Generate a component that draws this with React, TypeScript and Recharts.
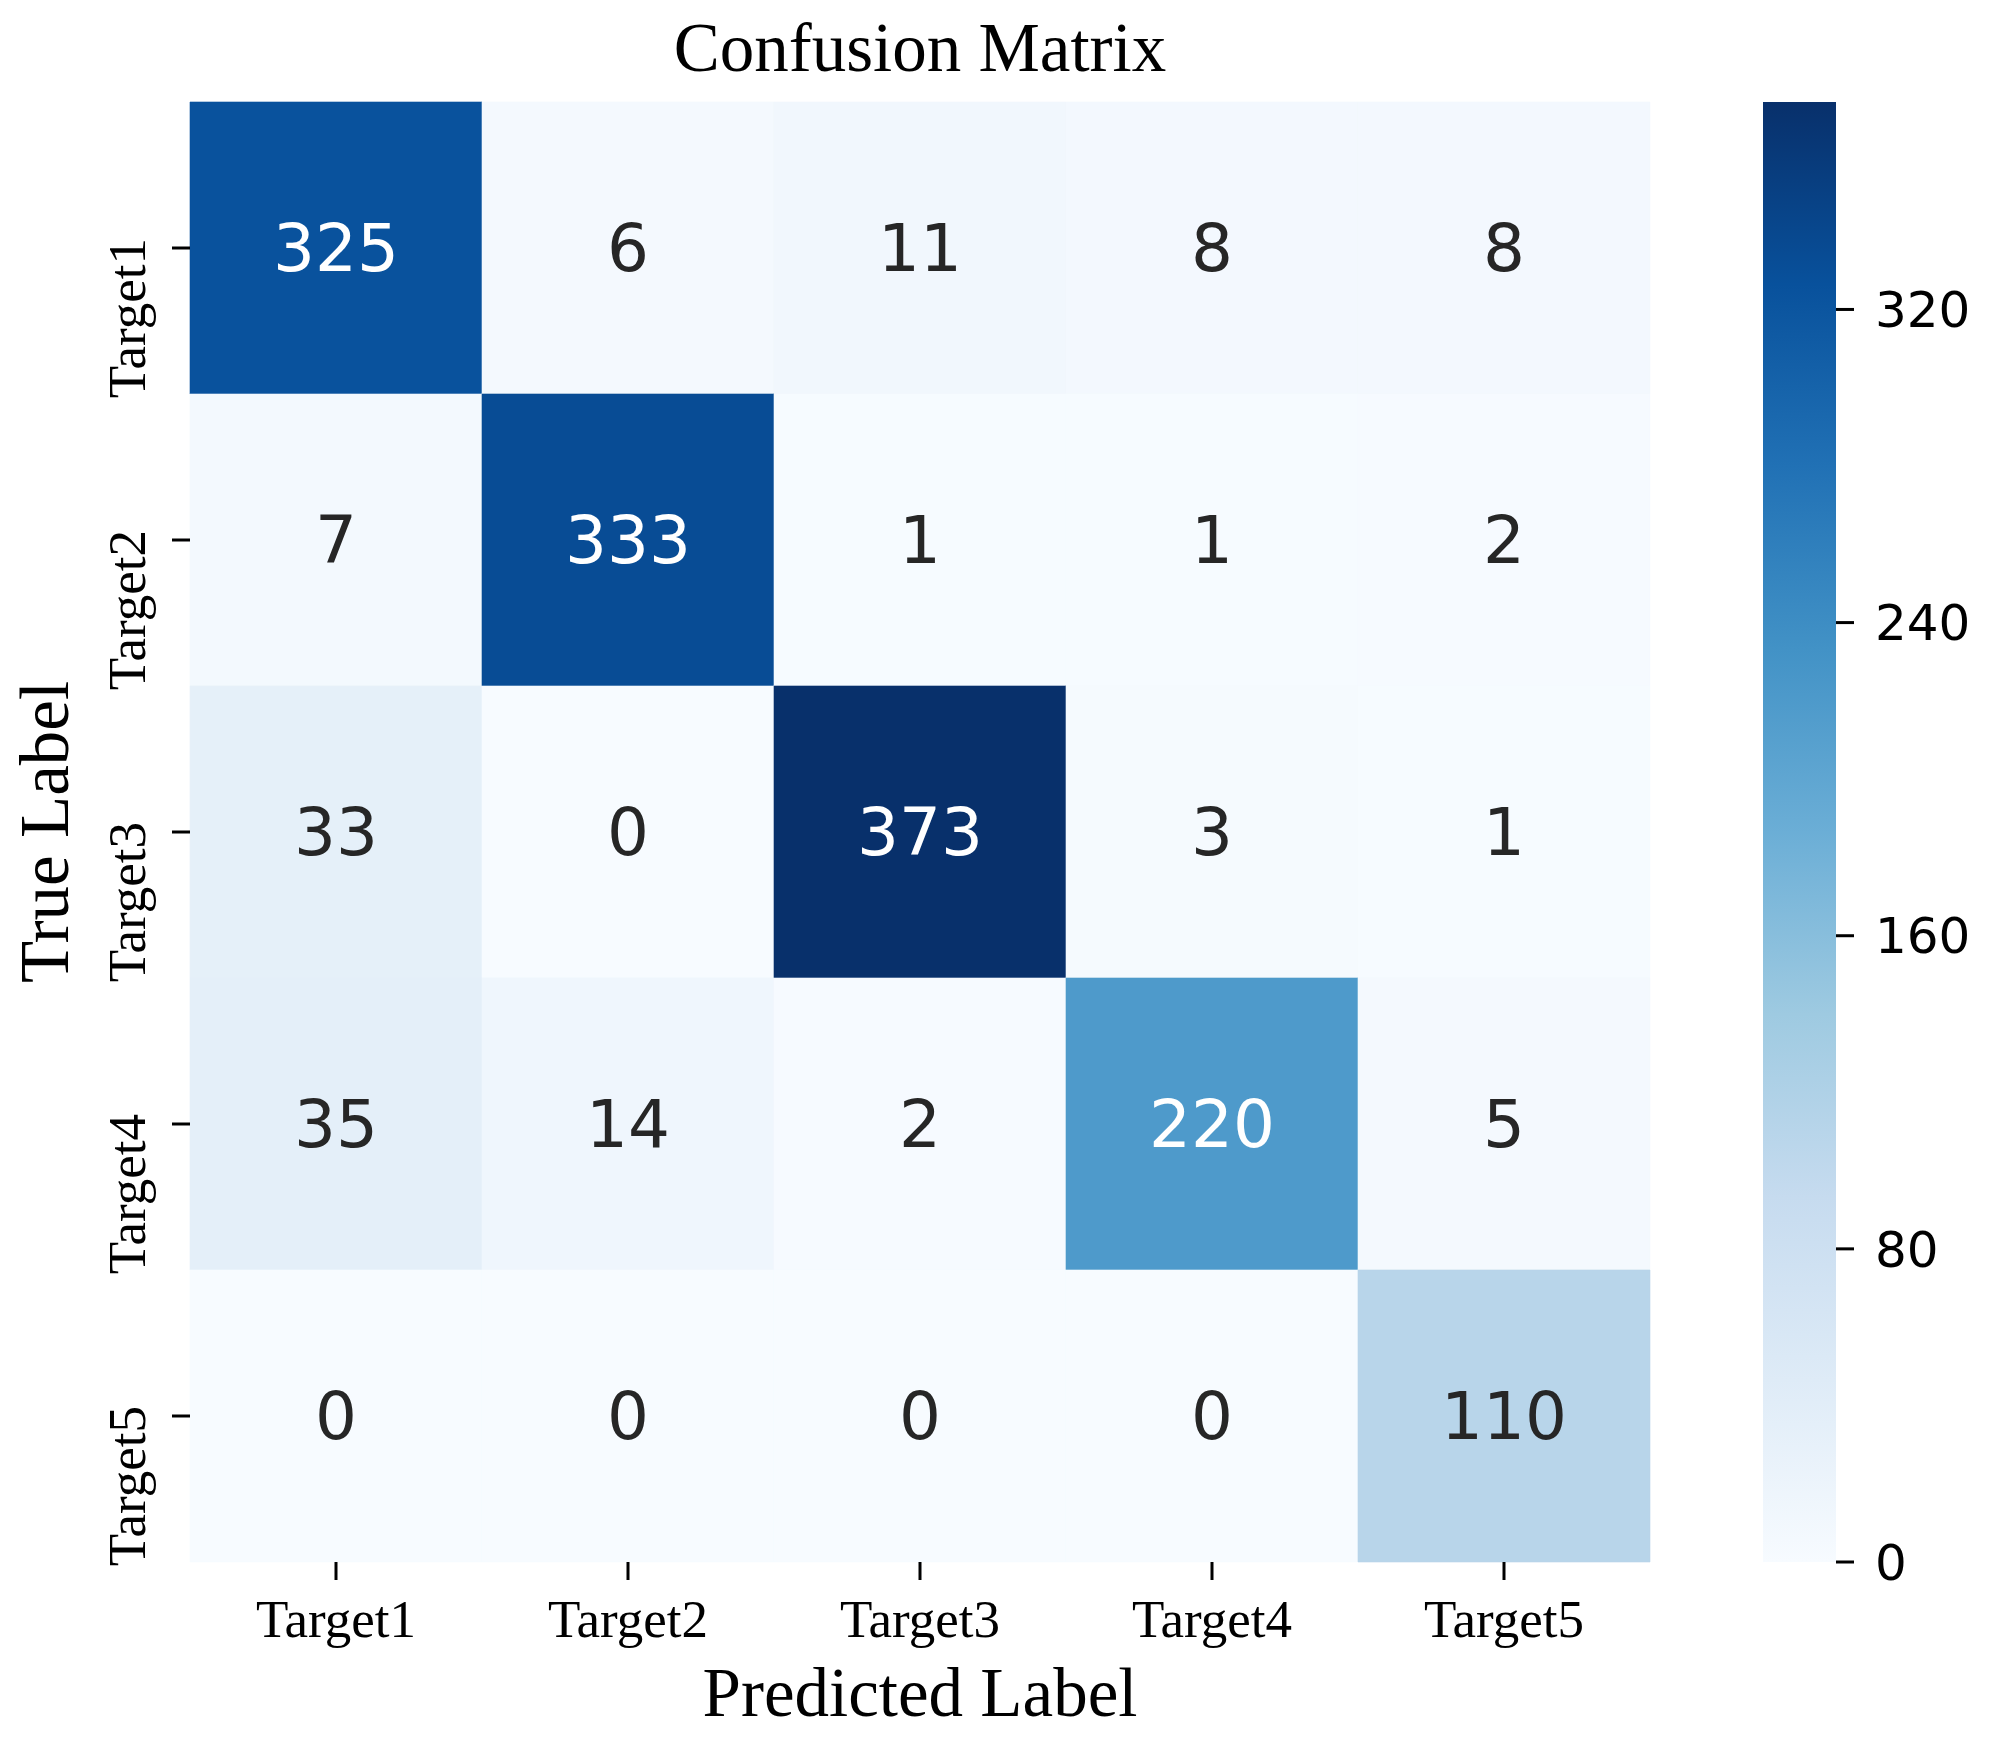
import React from 'react'
import {
  ScatterChart,
  Scatter,
  XAxis,
  YAxis,
  ReferenceArea,
  BarChart,
  Bar,
} from 'recharts'

// confusion matrix: rows = true label, cols = predicted label
const CLASSES = ['Target1', 'Target2', 'Target3', 'Target4', 'Target5']
const ROW_T1 = [325, 6, 11, 8, 8]
const ROW_T2 = [7, 333, 1, 1, 2]
const ROW_T3 = [33, 0, 373, 3, 1]
const ROW_T4 = [35, 14, 2, 220, 5]
const ROW_T5 = [0, 0, 0, 0, 110]
const MATRIX = [ROW_T1, ROW_T2, ROW_T3, ROW_T4, ROW_T5]
const CBAR_TICKS = [0, 80, 160, 240, 320]

// matplotlib "Blues"
const BLUES = [
  '#f7fbff',
  '#deebf7',
  '#c6dbef',
  '#9ecae1',
  '#6baed6',
  '#4292c6',
  '#2171b5',
  '#08519c',
  '#08306b',
]

const VMAX = Math.max(...MATRIX.flat())
const SERIF = "'Liberation Serif', 'Times New Roman', serif"
const SANS = "'DejaVu Sans', sans-serif"
const INK = '#000000'

const hexToRgb = (h: string) => [
  parseInt(h.slice(1, 3), 16),
  parseInt(h.slice(3, 5), 16),
  parseInt(h.slice(5, 7), 16),
]

const blues = (t: number) => {
  const tt = Math.max(0, Math.min(1, t))
  const p = tt * (BLUES.length - 1)
  const i = Math.min(Math.floor(p), BLUES.length - 2)
  const f = p - i
  const a = hexToRgb(BLUES[i])
  const b = hexToRgb(BLUES[i + 1])
  return a.map((v, k) => Math.round(v + (b[k] - v) * f))
}

const toHex = (rgb: number[]) =>
  '#' + rgb.map((v) => v.toString(16).padStart(2, '0')).join('')

// seaborn picks white text on dark cells
const annotColor = (rgb: number[]) => {
  const lin = rgb.map((v) => {
    const c = v / 255
    return c <= 0.03928 ? c / 12.92 : Math.pow((c + 0.055) / 1.055, 2.4)
  })
  const lum = 0.2126 * lin[0] + 0.7152 * lin[1] + 0.0722 * lin[2]
  return lum > 0.408 ? '#262626' : '#ffffff'
}

const cells = MATRIX.flatMap((row, r) =>
  row.map((v, c) => {
    const rgb = blues(v / VMAX)
    return {
      r,
      c,
      v,
      x: c + 0.5,
      y: r + 0.5,
      fill: toHex(rgb),
      text: annotColor(rgb),
    }
  })
)

const centers = CLASSES.map((_, i) => i + 0.5)
const cbarData = [{ name: 'cbar', value: VMAX }]

const XTick = (props: any) => {
  const { x, y, payload } = props
  return (
    <text
      x={x}
      y={y + 57}
      textAnchor="middle"
      fontFamily={SERIF}
      fontSize={53}
      fill={INK}
    >
      {CLASSES[Math.floor(payload.value)]}
    </text>
  )
}

const YTick = (props: any) => {
  const { x, y, payload } = props
  const tx = x - 27
  const ty = y - 10
  return (
    <text
      x={tx}
      y={ty}
      transform={`rotate(-90, ${tx}, ${ty})`}
      textAnchor="end"
      fontFamily={SERIF}
      fontSize={53}
      fill={INK}
    >
      {CLASSES[Math.floor(payload.value)]}
    </text>
  )
}

export default function App() {
  return (
    <div
      style={{
        position: 'absolute',
        left: 0,
        top: 0,
        width: 1992,
        height: 1749,
        background: '#ffffff',
      }}
    >
      <div style={{ position: 'absolute', left: 0, top: 0 }}>
        <ScatterChart
          width={1992}
          height={1749}
          margin={{ top: 102, right: 342, bottom: 0, left: 0 }}
        >
          <XAxis
            type="number"
            dataKey="x"
            domain={[0, 5]}
            ticks={centers}
            height={187}
            axisLine={false}
            tickSize={18}
            tickMargin={0}
            tickLine={{ stroke: INK, strokeWidth: 3 }}
            tick={<XTick />}
            interval={0}
          />
          <YAxis
            type="number"
            dataKey="y"
            domain={[0, 5]}
            reversed
            ticks={centers}
            width={190}
            axisLine={false}
            tickSize={18}
            tickMargin={0}
            tickLine={{ stroke: INK, strokeWidth: 3 }}
            tick={<YTick />}
            interval={0}
          />
          {cells.map((d) => (
            <ReferenceArea
              key={`cell-${d.r}-${d.c}`}
              x1={d.c}
              x2={d.c + 1}
              y1={d.r}
              y2={d.r + 1}
              fill={d.fill}
              fillOpacity={1}
              stroke={d.fill}
              strokeWidth={0.6}
              label={{
                value: String(d.v),
                position: 'center',
                fill: d.text,
                fontSize: 66,
                fontFamily: SANS,
              }}
            />
          ))}
          <Scatter
            data={cells}
            isAnimationActive={false}
            shape={() => <g />}
          />
        </ScatterChart>
      </div>

      <div style={{ position: 'absolute', left: 1763, top: 0 }}>
        <BarChart
          width={229}
          height={1749}
          data={cbarData}
          margin={{ top: 102, right: 0, bottom: 187, left: 0 }}
          barCategoryGap={0}
        >
          <defs>
            <linearGradient id="bluesGrad" x1="0" y1="1" x2="0" y2="0">
              {BLUES.map((c, i) => (
                <stop
                  key={c}
                  offset={`${(i / (BLUES.length - 1)) * 100}%`}
                  stopColor={c}
                />
              ))}
            </linearGradient>
          </defs>
          <XAxis dataKey="name" hide />
          <YAxis
            orientation="right"
            domain={[0, VMAX]}
            ticks={CBAR_TICKS}
            width={156}
            axisLine={false}
            tickSize={18}
            tickMargin={21}
            tickLine={{ stroke: INK, strokeWidth: 3 }}
            tick={{ fontSize: 50, fontFamily: SANS, fill: INK }}
            interval={0}
          />
          <Bar
            dataKey="value"
            fill="url(#bluesGrad)"
            isAnimationActive={false}
          />
        </BarChart>
      </div>

      <svg
        width={1992}
        height={1749}
        style={{ position: 'absolute', left: 0, top: 0, pointerEvents: 'none' }}
      >
        <text
          x={920}
          y={71}
          textAnchor="middle"
          fontFamily={SERIF}
          fontSize={69}
          fill={INK}
        >
          Confusion Matrix
        </text>
        <text
          x={920}
          y={1716}
          textAnchor="middle"
          fontFamily={SERIF}
          fontSize={69}
          fill={INK}
        >
          Predicted Label
        </text>
        <text
          x={68}
          y={832}
          transform="rotate(-90, 68, 832)"
          textAnchor="middle"
          fontFamily={SERIF}
          fontSize={69}
          fill={INK}
        >
          True Label
        </text>
      </svg>
    </div>
  )
}
